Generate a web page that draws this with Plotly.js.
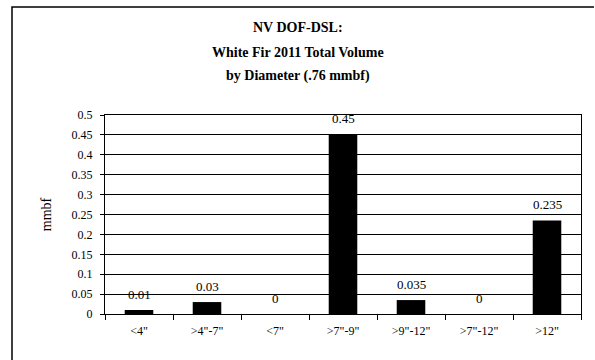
<!DOCTYPE html>
<html>
<head>
<meta charset="utf-8">
<script src="https://cdn.plot.ly/plotly-3.0.1.min.js"></script>
<style>html,body{margin:0;padding:0;background:#fff;overflow:hidden;}#chart{width:595px;height:360px;}</style>
</head>
<body>
<div id="chart"></div>
<script>
const categories = ['&lt;4"', '&gt;4"-7"', '&lt;7"', '&gt;7"-9"', '&gt;9"-12"', '&gt;7"-12"', '&gt;12"'];
const values = [0.01, 0.03, 0, 0.45, 0.035, 0, 0.235];
const valueLabels = ['0.01', '0.03', '0', '0.45', '0.035', '0', '0.235'];
const titleLines = ['NV DOF-DSL:', 'White Fir 2011 Total Volume', 'by Diameter (.76 mmbf)'];
const yTicks = [0, 0.05, 0.1, 0.15, 0.2, 0.25, 0.3, 0.35, 0.4, 0.45, 0.5];
const yTickText = ['0', '0.05', '0.1', '0.15', '0.2', '0.25', '0.3', '0.35', '0.4', '0.45', '0.5'];

const serif = '"Liberation Serif", "Times New Roman", serif';

const trace = {
  type: 'bar',
  x: categories,
  y: values,
  marker: {color: '#000', line: {width: 0}},
  hoverinfo: 'none'
};

const L = 105, R = 14, T = 115, B = 46;
const W = 595 - L - R, H = 360 - T - B;

const titleAnnots = titleLines.map((t, i) => ({
  text: '<b>' + t + '</b>',
  xref: 'paper', yref: 'paper',
  x: (297.5 - L) / W,
  y: (360 - B - [27, 52, 76][i]) / H,
  xanchor: 'center', yanchor: 'middle',
  showarrow: false,
  font: {family: serif, size: 14, color: '#000'}
}));

const valueAnnots = categories.map((c, i) => ({
  text: valueLabels[i],
  xref: 'x', yref: 'y',
  x: c, y: values[i],
  xanchor: 'center', yanchor: 'middle',
  yshift: 16,
  showarrow: false,
  font: {family: serif, size: 13, color: '#000'}
}));

const layout = {
  width: 595, height: 360,
  margin: {l: L, r: R, t: T, b: B, pad: 0},
  paper_bgcolor: '#fff', plot_bgcolor: '#fff',
  showlegend: false,
  bargap: 0.58,
  annotations: titleAnnots.concat(valueAnnots),
  shapes: [
    {type: 'path', xref: 'paper', yref: 'paper',
     path: 'M ' + ((12 - L) / W) + ',' + ((360 - B - 360) / H) +
           ' L ' + ((12 - L) / W) + ',' + ((360 - B - 7) / H) +
           ' L ' + ((594 - L) / W) + ',' + ((360 - B - 7) / H),
     line: {color: '#000', width: 1.5}, layer: 'below'}
  ],
  xaxis: {
    type: 'category',
    showline: true, mirror: true, linecolor: '#000', linewidth: 1,
    ticks: 'outside', tickson: 'boundaries', ticklen: 5, tickcolor: '#000',
    ticklabelstandoff: 6,
    tickfont: {family: serif, size: 12, color: '#000'},
    showgrid: false, zeroline: false, fixedrange: true
  },
  yaxis: {
    range: [0, 0.5],
    tickvals: yTicks, ticktext: yTickText,
    showline: true, mirror: true, linecolor: '#000', linewidth: 1,
    ticks: 'outside', ticklen: 4, tickcolor: '#000',
    ticklabelstandoff: 5,
    tickfont: {family: serif, size: 12, color: '#000'},
    showgrid: true, gridcolor: '#000', gridwidth: 1,
    zeroline: false, fixedrange: true,
    title: {text: 'mmbf', font: {family: serif, size: 14, color: '#000'}, standoff: 16}
  }
};

Plotly.newPlot('chart', [trace], layout, {staticPlot: true, displayModeBar: false});
</script>
</body>
</html>
